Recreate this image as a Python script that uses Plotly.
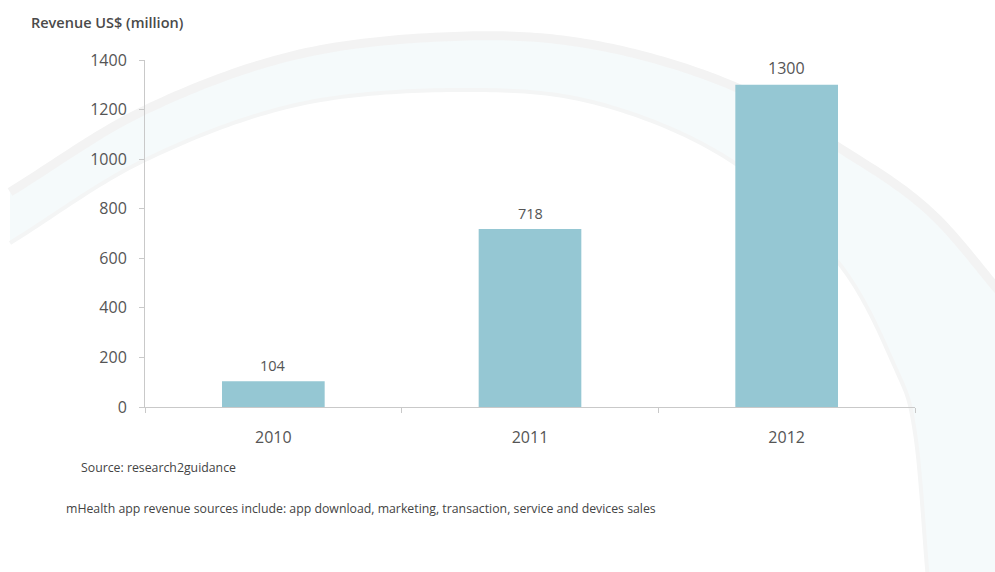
import numpy as np
import plotly.graph_objects as go

# Revenue data (US$ million)
years = ["2010", "2011", "2012"]
revenue = [104, 718, 1300]
label_sizes = [14.5, 14.5, 16]
y_ticks = [0, 200, 400, 600, 800, 1000, 1200, 1400]

W, H = 995, 572
ML, MR, MT, MB = 145, 80, 60, 165
PW, PH = W - ML - MR, H - MT - MB

TEXT = "#555555"
AXIS = "#c9c9c9"
FONT = "Open Sans"


def px(x):
    return (x - ML) / PW


def py(y):
    return (H - MB - y) / PH


def catmull(points, n=24):
    pts = np.asarray(points, dtype=float)
    ext = np.vstack([2 * pts[0] - pts[1], pts, 2 * pts[-1] - pts[-2]])
    out = []
    for i in range(1, len(ext) - 2):
        p0, p1, p2, p3 = ext[i - 1], ext[i], ext[i + 1], ext[i + 2]
        for t in np.linspace(0, 1, n, endpoint=False):
            t2, t3 = t * t, t * t * t
            out.append(0.5 * ((2 * p1) + (-p0 + p2) * t
                              + (2 * p0 - 5 * p1 + 4 * p2 - p3) * t2
                              + (-p0 + 3 * p1 - 3 * p2 + p3) * t3))
    out.append(pts[-1])
    return out


def to_path(pts, close=False):
    s = "M " + " L ".join(f"{px(x):.5f},{py(y):.5f}" for x, y in pts)
    return s + (" Z" if close else "")


# faint decorative swoosh behind the chart
outer = [(10, 192), (145, 110), (300, 54), (467, 36), (600, 46), (733, 86),
         (838, 147), (928, 210), (1005, 298)]
inner = [(10, 243), (145, 160), (300, 104), (467, 90), (600, 104), (733, 162),
         (838, 262), (895, 367), (915, 433), (928, 580)]
outer_c = catmull(outer)
inner_c = catmull(inner)
band = outer_c + [(1005, 580)] + inner_c[::-1]

shapes = [
    dict(type="path", xref="paper", yref="paper", layer="below",
         path=to_path(band, close=True), fillcolor="#f5fafb", line=dict(width=0)),
    dict(type="path", xref="paper", yref="paper", layer="below",
         path=to_path(outer_c), line=dict(color="#f3f3f3", width=9)),
    dict(type="path", xref="paper", yref="paper", layer="below",
         path=to_path(inner_c), line=dict(color="#f4f5f5", width=4)),
]

fig = go.Figure(go.Bar(
    x=years, y=revenue, marker=dict(color="#95c7d3", line=dict(width=0)),
    width=0.4, hoverinfo="skip",
))

# value labels above each bar
annotations = [
    dict(xref="x", yref="y", x=i, y=v, text=str(v), showarrow=False,
         yanchor="bottom", yshift=4,
         font=dict(family=FONT, size=s, color=TEXT))
    for i, (v, s) in enumerate(zip(revenue, label_sizes))
]
annotations += [
    dict(xref="paper", yref="paper", x=px(29), y=py(22), xanchor="left", yanchor="middle",
         text="Revenue US$ (million)", showarrow=False,
         font=dict(family=FONT, size=14.5, color="#4a4a4a", weight=600)),
    dict(xref="paper", yref="paper", x=px(79), y=py(467), xanchor="left", yanchor="middle",
         text="Source: research2guidance", showarrow=False,
         font=dict(family=FONT, size=12.3, color="#444444")),
    dict(xref="paper", yref="paper", x=px(64), y=py(508), xanchor="left", yanchor="middle",
         text="mHealth app revenue sources include: app download, marketing, transaction, service and devices sales",
         showarrow=False, font=dict(family=FONT, size=12.3, color="#444444")),
]

fig.update_layout(
    width=W, height=H,
    margin=dict(l=ML, r=MR, t=MT, b=MB, pad=0),
    paper_bgcolor="white", plot_bgcolor="rgba(0,0,0,0)",
    showlegend=False, shapes=shapes, annotations=annotations,
    font=dict(family=FONT, color=TEXT),
)
fig.update_xaxes(
    type="category", range=[-0.5, 2.5], tickson="boundaries",
    showline=True, linecolor=AXIS, linewidth=1,
    ticks="outside", ticklen=5, tickcolor=AXIS,
    showgrid=False, zeroline=False,
    tickfont=dict(family=FONT, size=16, color=TEXT), ticklabelstandoff=16,
)
fig.update_yaxes(
    range=[0, 1400], tickvals=y_ticks,
    showline=True, linecolor=AXIS, linewidth=1,
    ticks="outside", ticklen=5, tickcolor=AXIS,
    showgrid=False, zeroline=False,
    tickfont=dict(family=FONT, size=16, color=TEXT), ticklabelstandoff=9,
)

fig.write_html("out.html")
